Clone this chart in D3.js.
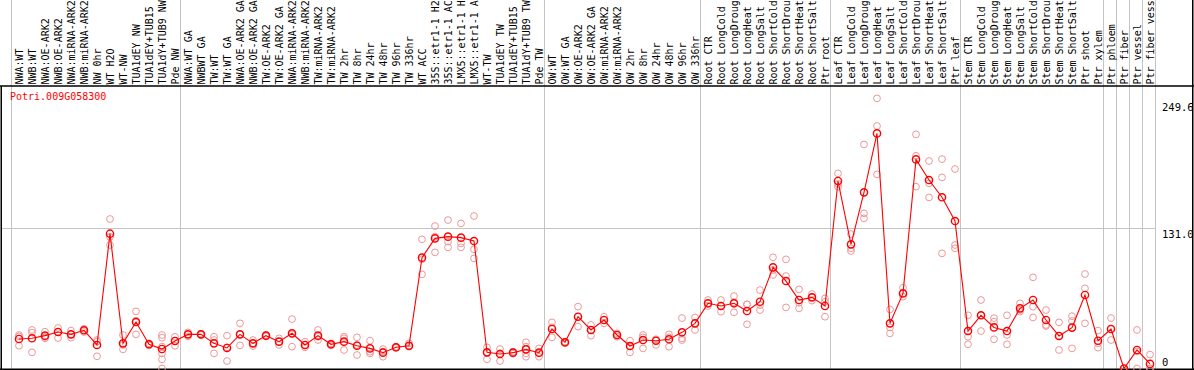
<!DOCTYPE html>
<html>
<head>
<meta charset="utf-8">
<script src="https://cdn.jsdelivr.net/npm/d3@7"></script>
<style>
  body { margin: 0; background: #fff; }
  svg { display: block; }
</style>
</head>
<body>
<svg id="chart"></svg>
<script>
// gene shown in the panel
const geneName = "Potri.009G058300";

// sample names, left to right (long ones are cut to 14 characters as in the panel)
const labels = [
    "NWA:WT", "NWB:WT", "NWA:OE-ARK2", "NWB:OE-ARK2", "NWA:miRNA-ARK2", "NWB:miRNA-ARK2",
    "NW 0hr", "WT H2O", "WT-NW", "TUA1dEY NW", "TUA1dEY+TUB15", "TUA1dY+TUB9 NW", "Pde NW",
    "NWA:WT GA", "NWBWT GA", "TW:WT", "TW:WT GA", "NWA:OE-ARK2 GA", "NWB:OE-ARK2 GA",
    "TW:OE-ARK2", "TW:OE-ARK2 GA", "NWA:miRNA-ARK2", "NWB:miRNA-ARK2", "TW:miRNA-ARK2",
    "TW:miRNA-ARK2", "TW 2hr", "TW 8hr", "TW 24hr", "TW 48hr", "TW 96hr", "TW 336hr",
    "WT ACC", "35S::etr1-1 H2", "35S::etr1-1 AC", "LMX5::etr1-1 H", "LMX5::etr1-1 A",
    "WT-TW", "TUA1dEY TW", "TUA1dEY+TUB15", "TUA1dY+TUB9 TW", "Pde TW",
    "OW:WT", "OW:WT GA", "OW:OE-ARK2", "OW:OE-ARK2 GA", "OW:miRNA-ARK2", "OW:miRNA-ARK2",
    "OW 2hr", "OW 8hr", "OW 24hr", "OW 48hr", "OW 96hr", "OW 336hr",
    "Root CTR", "Root LongCold", "Root LongDroug", "Root LongHeat", "Root LongSalt",
    "Root ShortCold", "Root ShortDrou", "Root ShortHeat", "Root ShortSalt", "Ptr root",
    "Leaf CTR", "Leaf LongCold", "Leaf LongDroug", "Leaf LongHeat", "Leaf LongSalt",
    "Leaf ShortCold", "Leaf ShortDrou", "Leaf ShortHeat", "Leaf ShortSalt", "Ptr leaf",
    "Stem CTR", "Stem LongCold", "Stem LongDroug", "Stem LongHeat", "Stem LongSalt",
    "Stem ShortCold", "Stem ShortDrou", "Stem ShortHeat", "Stem ShortSalt", "Ptr shoot",
    "Ptr xylem", "Ptr phloem", "Ptr fiber", "Ptr vessel", "Ptr fiber vess"
];

// number of samples in each block (grey separators between blocks)
const groupSizes = [13, 28, 12, 10, 10, 11, 1, 1, 1, 1];

// mean expression per sample
const means = [
    27.6, 28.2, 30.7, 34.1, 31.9, 35.7, 22.0, 126.0, 23.5, 43.4, 22.6, 18.2, 25.7,
    31.9, 31.9, 23.5, 19.2, 31.9, 23.5, 30.7, 25.1, 32.9, 22.0, 30.7, 22.6, 25.1, 21.3,
    18.8, 14.8, 19.8, 21.3, 103.6, 121.6, 123.2, 122.3, 119.1, 15.1, 13.5, 14.8, 17.9, 14.8,
    36.9, 24.5, 48.4, 36.0, 45.3, 31.3, 21.0, 26.6, 26.0, 27.3, 33.8, 42.2,
    60.9, 58.4, 60.9, 53.7, 62.4, 94.5, 81.7, 64.0, 66.5, 58.4,
    175.2, 116.0, 164.6, 219.7, 42.2, 70.2, 195.4, 176.1, 160.0, 137.8,
    35.0, 49.7, 38.4, 35.0, 56.2, 64.0, 45.3, 30.4, 38.2, 68.7, 26.0,
    36.9, 0, 17.3, 4.3
];

// individual replicate values per sample
const replicates = [
    [31.3, 30.0, 21.3], [36.0, 33.5, 15.1], [34.4, 29.4, 28.2], [37.9, 34.1, 28.5],
    [35.4, 31.9, 28.8], [37.2, 35.7, 34.1], [26.6, 25.1, 11.4], [139.7, 122.9, 115.4],
    [31.3, 22.0, 17.9], [53.4, 44.7, 31.9], [23.5, 22.6, 21.6],
    [31.3, 28.8, 20.4, 14.1, 8.6, 0], [29.7, 26.0, 21.3],

    [33.8, 31.9, 30.0], [32.6, 31.9, 31.3], [29.7, 26.6, 14.1], [30.7, 19.8, 7.0],
    [42.2, 31.9, 21.6], [26.6, 23.5, 21.0], [31.3, 30.7, 30.0], [28.2, 25.1, 22.0],
    [46.2, 31.9, 20.4], [25.1, 22.0, 19.8], [36.0, 29.7, 26.6], [23.5, 22.6, 21.6],
    [29.7, 28.2, 17.3], [29.1, 22.0, 12.6], [26.0, 15.7, 14.1], [18.2, 15.7, 11.0],
    [20.4, 19.8, 19.2], [23.5, 21.3, 20.4], [120.7, 102.0, 88.0], [133.1, 123.2, 108.5],
    [138.7, 118.5, 113.2], [135.6, 116.9, 113.2], [142.5, 111.4, 102.9], [19.8, 15.1, 8.6],
    [18.2, 14.1, 7.0], [15.7, 14.8, 13.8], [24.5, 20.4, 14.1, 11.0], [18.8, 14.1, 11.0],

    [43.1, 38.5, 29.1], [25.1, 24.5, 23.5], [57.8, 48.4, 39.1], [40.7, 36.0, 30.7],
    [48.4, 45.3, 42.2], [32.9, 31.3, 29.7], [26.0, 21.0, 15.1], [31.3, 29.1, 18.8],
    [27.3, 26.0, 22.0], [31.9, 29.1, 20.4], [47.1, 28.2, 26.6], [47.7, 42.2, 36.0],

    [64.0, 60.9, 58.4], [64.0, 58.4, 53.1], [67.7, 61.8, 52.5], [59.9, 59.9, 41.3],
    [73.3, 59.3, 54.6], [103.9, 92.0, 87.4], [102.0, 86.4, 57.1], [73.9, 61.5, 56.2],
    [69.6, 66.5, 63.4], [65.5, 62.4, 48.4],

    [182.3, 172.4, 169.9], [125.6, 112.3, 109.8], [209.4, 145.0, 140.3], [252.4, 226.6, 181.4],
    [55.2, 38.4, 32.8], [75.5, 70.2, 67.1], [218.8, 198.8, 169.9], [193.9, 173.0, 159.9],
    [195.7, 178.6, 107.6], [186.4, 115.4, 112.3],

    [49.7, 29.7, 22.6], [64.0, 49.7, 35.0], [47.1, 43.8, 27.3], [49.7, 31.3, 22.6],
    [60.9, 54.6, 53.1], [85.2, 57.8, 47.7], [54.6, 40.7, 39.7], [43.1, 30.4, 17.3],
    [48.9, 44.4, 18.8], [88.3, 74.9, 42.2], [35.4, 23.5, 19.5],

    [47.1, 36.9, 26.6], [0, 0, 0], [36.0, 15.9, 0], [13.0, 0, 0]
];

// right-hand value labels
const yTicks = [0, 131.0, 249.6];
const gridValues = [131.0];

// sizes
let width = 1194, height = 370;
let headerBottom = 86;
let plotLeft = 11, plotRight = 1155, plotBottom = 368.5, plotTop = 101.4;
const mono = "'DejaVu Sans Mono', 'Liberation Mono', monospace";

let svg = d3.select('#chart')
    .attr('width', width)
    .attr('height', height);

let xScale = d3.scaleBand()
    .domain(d3.range(labels.length))
    .range([plotLeft, plotRight]);

let yScale = d3.scaleLinear()
    .domain([0, d3.max(yTicks)])
    .range([plotBottom, plotTop]);

const colEdge = k => k < labels.length ? xScale(k) : xScale(labels.length - 1) + xScale.bandwidth();
const cx = i => xScale(i) + 8;

// grey separators between sample blocks
let bounds = [0].concat(Array.from(d3.cumsum(groupSizes)));
svg.append('g')
    .selectAll('line')
    .data(bounds)
    .enter()
    .append('line')
    .attr('x1', d => Math.round(colEdge(d)) + 0.5)
    .attr('x2', d => Math.round(colEdge(d)) + 0.5)
    .attr('y1', 0)
    .attr('y2', height)
    .attr('stroke', '#c4c4c4')
    .attr('stroke-width', 1);

// horizontal grid
svg.append('g')
    .selectAll('line')
    .data(gridValues)
    .enter()
    .append('line')
    .attr('x1', 1)
    .attr('x2', plotRight)
    .attr('y1', d => Math.round(yScale(d)) + 0.5)
    .attr('y2', d => Math.round(yScale(d)) + 0.5)
    .attr('stroke', '#c4c4c4')
    .attr('stroke-width', 1);

// black frame
let frame = svg.append('g').attr('stroke', '#000').attr('stroke-width', 1.5);
frame.append('line').attr('x1', 0).attr('x2', width).attr('y1', headerBottom).attr('y2', headerBottom);
frame.append('line').attr('x1', 0).attr('x2', width).attr('y1', height - 0.75).attr('y2', height - 0.75);
frame.append('line').attr('x1', 1.25).attr('x2', 1.25).attr('y1', headerBottom).attr('y2', height);
frame.append('line').attr('x1', 1192.75).attr('x2', 1192.75).attr('y1', 0).attr('y2', height);

// column labels, rotated
svg.append('g')
    .selectAll('text')
    .data(labels)
    .enter()
    .append('text')
    .attr('transform', (d, i) => `translate(${xScale(i) + 12}, 84.5) rotate(-90)`)
    .attr('font-family', mono)
    .attr('font-size', '10px')
    .attr('fill', '#000')
    .text(d => d);

// replicate circles
let repPoints = [];
replicates.forEach((vals, i) => vals.forEach(v => repPoints.push({i: i, v: v})));
svg.append('g')
    .selectAll('circle')
    .data(repPoints)
    .enter()
    .append('circle')
    .attr('cx', d => cx(d.i))
    .attr('cy', d => yScale(d.v))
    .attr('r', 3.4)
    .attr('fill', 'none')
    .attr('stroke', '#ec9898')
    .attr('stroke-width', 1);

// mean line
let line = d3.line()
    .x((d, i) => cx(i))
    .y(d => yScale(d));
svg.append('path')
    .datum(means)
    .attr('d', line)
    .attr('fill', 'none')
    .attr('stroke', '#ff0000')
    .attr('stroke-width', 1.1);

// mean circles
svg.append('g')
    .selectAll('circle')
    .data(means)
    .enter()
    .append('circle')
    .attr('cx', (d, i) => cx(i))
    .attr('cy', d => yScale(d))
    .attr('r', 3.6)
    .attr('fill', 'none')
    .attr('stroke', '#ff0000')
    .attr('stroke-width', 1.4);

// value labels on the right
svg.append('g')
    .selectAll('text')
    .data(yTicks)
    .enter()
    .append('text')
    .attr('x', 1162)
    .attr('y', d => Math.min(yScale(d) + 9.5, 366))
    .attr('font-family', mono)
    .attr('font-size', '10.5px')
    .attr('fill', '#000')
    .text(d => d === 0 ? '0' : d.toFixed(1));

// gene name
svg.append('text')
    .attr('x', 10)
    .attr('y', 100)
    .attr('font-family', mono)
    .attr('font-size', '10px')
    .attr('fill', '#ff0000')
    .text(geneName);
</script>
</body>
</html>
